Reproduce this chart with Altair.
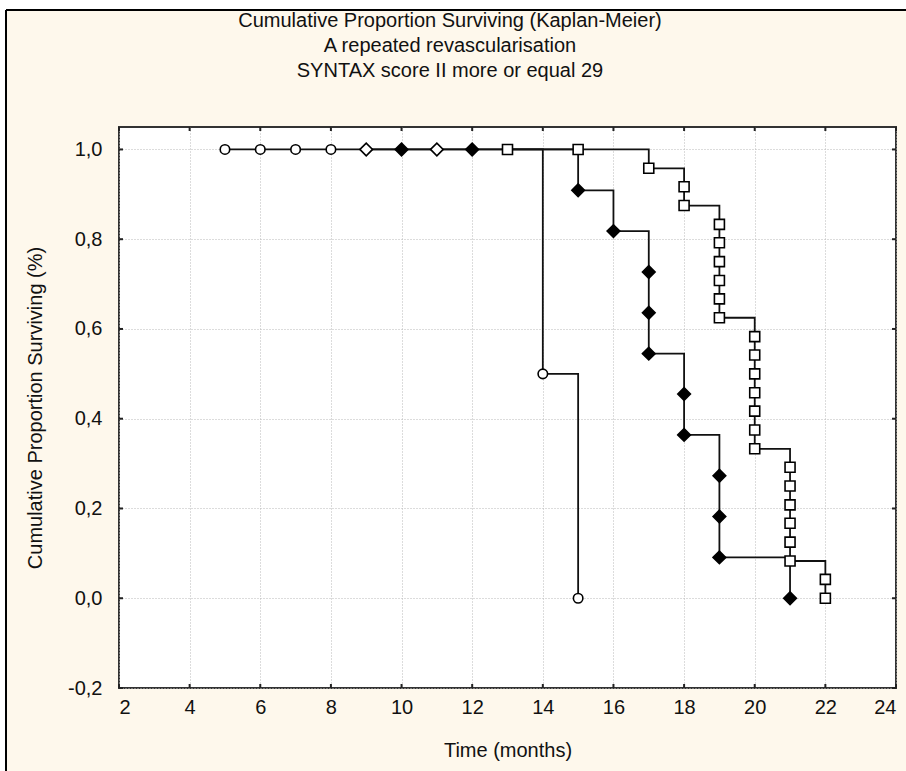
import altair as alt
import pandas as pd

# Kaplan-Meier estimates for three groups: time (months), cumulative proportion surviving
circle_time = [5, 6, 7, 8, 14, 15]
circle_surv = [1.0, 1.0, 1.0, 1.0, 0.5, 0.0]
circle_filled = [0, 0, 0, 0, 0, 0]

diamond_time = [9, 10, 11, 12, 15, 16, 17, 17, 17, 18, 18, 19, 19, 19, 21]
diamond_surv = [1.0, 1.0, 1.0, 1.0, 0.909, 0.818, 0.727, 0.636, 0.545,
                0.455, 0.364, 0.273, 0.182, 0.091, 0.0]
diamond_filled = [0, 1, 0, 1, 1, 1, 1, 1, 1, 1, 1, 1, 1, 1, 1]

square_time = [13, 15, 17, 18, 18, 19, 19, 19, 19, 19, 19,
               20, 20, 20, 20, 20, 20, 20, 21, 21, 21, 21, 21, 21, 22, 22]
square_surv = [1.0, 1.0, 0.958, 0.917, 0.875, 0.833, 0.792, 0.75, 0.708, 0.667, 0.625,
               0.583, 0.542, 0.5, 0.458, 0.417, 0.375, 0.333,
               0.292, 0.25, 0.208, 0.167, 0.125, 0.083, 0.042, 0.0]
square_filled = [0] * len(square_time)

x_ticks = [2, 4, 6, 8, 10, 12, 14, 16, 18, 20, 22, 24]
y_ticks = [-0.2, 0.0, 0.2, 0.4, 0.6, 0.8, 1.0]

title_lines = [
    "Cumulative Proportion Surviving (Kaplan-Meier)",
    "A repeated revascularisation",
    "SYNTAX score II more or equal 29",
]
x_title = "Time (months)"
y_title = "Cumulative Proportion Surviving (%)"

W, H = 777, 561
FONT = "Liberation Sans"
CREAM = "#fef8ec"
INK = "#111"

rows = []
for grp, ts, ss, fs in [("circle", circle_time, circle_surv, circle_filled),
                        ("diamond", diamond_time, diamond_surv, diamond_filled),
                        ("square", square_time, square_surv, square_filled)]:
    for t, s, f in zip(ts, ss, fs):
        rows.append({"group": grp, "time": t, "surv": s, "filled": f})
df = pd.DataFrame(rows)
df["seq"] = range(len(df))

x_scale = alt.Scale(domain=[2, 24], nice=False, zero=False)
y_scale = alt.Scale(domain=[-0.2, 1.05], nice=False, zero=False)

grid_style = dict(grid=True, gridColor="#b8b8b8", gridDash=[1, 2], gridWidth=1)
label_style = dict(labelFont=FONT, labelFontSize=20, labelColor=INK)
title_style = dict(titleFont=FONT, titleFontSize=20, titleFontWeight="normal", titleColor=INK)

x_enc = alt.X(
    "time:Q", scale=x_scale,
    axis=alt.Axis(values=x_ticks, format="d", title=x_title, ticks=False, domain=False,
                  labelPadding=9, titleX=W / 2, titleY=62, titleBaseline="middle",
                  **grid_style, **label_style, **title_style),
)
y_enc = alt.Y(
    "surv:Q", scale=y_scale,
    axis=alt.Axis(values=y_ticks, format=".1f",
                  labelExpr="replace(replace(datum.label, '.', ','), '\u2212', '-')",
                  title=y_title, ticks=False, domain=False, labelPadding=17,
                  titleX=-84, titleY=H / 2, titleBaseline="middle", titleAngle=-90,
                  **grid_style, **label_style, **title_style),
)

base = alt.Chart(df)

steps = base.mark_line(interpolate="step-after", color=INK, strokeWidth=1.8).encode(
    x=x_enc, y=y_enc, detail="group:N", order="seq:Q"
)

fill_scale = alt.Scale(domain=[0, 1], range=["white", "black"])


def markers(group, shape, size):
    return base.transform_filter(alt.datum.group == group).mark_point(
        shape=shape, size=size, filled=True, opacity=1, strokeWidth=1.6
    ).encode(
        x="time:Q", y="surv:Q",
        fill=alt.Fill("filled:N", scale=fill_scale, legend=None),
        stroke=alt.value("black"),
    )


circles = markers("circle", "circle", 90)
diamonds = markers("diamond", "diamond", 160)
squares = markers("square", "square", 100)

# inward tick marks on all four sides of the frame
xt = alt.Chart(pd.DataFrame({"t": x_ticks}))
yt = alt.Chart(pd.DataFrame({"v": y_ticks}))
tick_style = dict(color="#222", strokeWidth=2)
ticks_bottom = xt.mark_rule(**tick_style).encode(x="t:Q", y=alt.value(H), y2=alt.value(H - 4))
ticks_top = xt.mark_rule(**tick_style).encode(x="t:Q", y=alt.value(0), y2=alt.value(4))
ticks_left = yt.mark_rule(**tick_style).encode(y="v:Q", x=alt.value(0), x2=alt.value(4))
ticks_right = yt.mark_rule(**tick_style).encode(y="v:Q", x=alt.value(W), x2=alt.value(W - 4))

# outer window frame: white margin with black edge on the left and top
one = alt.Chart(pd.DataFrame({"k": [0]}))
margin_left = one.mark_rect(color="white", clip=False).encode(
    x=alt.value(-119), x2=alt.value(-114), y=alt.value(-127), y2=alt.value(H + 83))
margin_top = one.mark_rect(color="white", clip=False).encode(
    x=alt.value(-119), x2=alt.value(W + 10), y=alt.value(-127), y2=alt.value(-117))
edge_left = one.mark_rule(color="black", strokeWidth=2, clip=False).encode(
    x=alt.value(-113), y=alt.value(-117), y2=alt.value(H + 83))
edge_top = one.mark_rule(color="black", strokeWidth=2, clip=False).encode(
    x=alt.value(-113), x2=alt.value(W + 10), y=alt.value(-117))

# three-line heading centred over the window
heading = one.mark_text(
    text=title_lines, font=FONT, fontSize=20, color=INK, lineHeight=25,
    align="center", baseline="alphabetic", clip=False,
).encode(x=alt.value(450 - 119), y=alt.value(27 - 127))

chart = alt.layer(
    margin_left, margin_top, edge_left, edge_top, heading,
    steps, circles, diamonds, squares,
    ticks_bottom, ticks_top, ticks_left, ticks_right,
).properties(
    width=W, height=H,
    background=CREAM,
    padding={"left": 119, "top": 127, "right": 10, "bottom": 83},
    autosize=alt.AutoSizeParams(type="none"),
).configure_view(
    fill="white", stroke="#333", strokeWidth=2
)

chart.save("out.html", embed_options={"renderer": "svg", "actions": False})
